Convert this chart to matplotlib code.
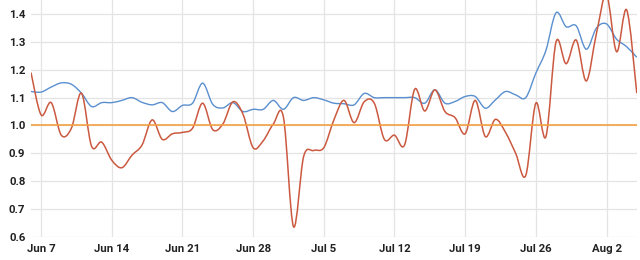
import matplotlib
matplotlib.use("Agg")
import matplotlib.pyplot as plt
import matplotlib.dates as mdates
from matplotlib.path import Path
from matplotlib.patches import PathPatch
import numpy as np
import pandas as pd


# daily values, Jun 6 .. Aug 5
dates = pd.date_range("2020-06-06", "2020-08-05", freq="D")

red_vals = [
    1.19, 1.038, 1.082, 0.965, 0.99, 1.116, 0.925, 0.94, 0.875, 0.848,
    0.893, 0.93, 1.02, 0.95, 0.97, 0.975, 0.99, 1.08, 0.985, 1.005,
    1.085, 1.04, 0.92, 0.945, 1.005,
    1.03, 0.636, 0.888, 0.91, 0.92, 1.02, 1.09, 1.01, 1.085, 1.08,
    0.95, 0.965, 0.93, 1.13, 1.052, 1.128, 1.05, 1.028, 0.97, 1.09,
    0.96, 1.022, 0.975, 0.90, 0.82, 1.08, 0.96, 1.30, 1.222, 1.307,
    1.16,
    1.33, 1.47, 1.265, 1.415, 1.116,
]

blue_vals = [
    1.122, 1.12, 1.138, 1.153, 1.148, 1.116, 1.068, 1.082, 1.082, 1.09,
    1.10, 1.083, 1.074, 1.082, 1.05, 1.072, 1.08, 1.152, 1.076, 1.063,
    1.082, 1.05, 1.058, 1.058, 1.09,
    1.058, 1.10, 1.09, 1.10, 1.092, 1.08, 1.078, 1.074, 1.115, 1.10,
    1.10, 1.10, 1.10, 1.10, 1.08, 1.128, 1.08, 1.086, 1.104, 1.104,
    1.062, 1.092, 1.122, 1.11, 1.10, 1.188, 1.27, 1.405, 1.355, 1.358,
    1.274,
    1.35, 1.365, 1.31, 1.283, 1.245,
]

baseline = 1.0

tick_labels = ["Jun 7", "Jun 14", "Jun 21", "Jun 28", "Jul 5",
               "Jul 12", "Jul 19", "Jul 26", "Aug 2"]
tick_dates = pd.to_datetime(["2020-06-07", "2020-06-14", "2020-06-21",
                             "2020-06-28", "2020-07-05", "2020-07-12",
                             "2020-07-19", "2020-07-26", "2020-08-02"])
y_ticks = [0.6, 0.7, 0.8, 0.9, 1.0, 1.1, 1.2, 1.3, 1.4]


def smooth_path(x, y, t=1.0 / 6):
    # cubic bezier through the points (catmull-rom style tangents)
    x = np.asarray(x, float)
    y = np.asarray(y, float)
    n = len(x)
    verts = [(x[0], y[0])]
    codes = [Path.MOVETO]
    for i in range(n - 1):
        i0 = max(i - 1, 0)
        i3 = min(i + 2, n - 1)
        c1 = (x[i] + (x[i + 1] - x[i0]) * t, y[i] + (y[i + 1] - y[i0]) * t)
        c2 = (x[i + 1] - (x[i3] - x[i]) * t, y[i + 1] - (y[i3] - y[i]) * t)
        verts += [c1, c2, (x[i + 1], y[i + 1])]
        codes += [Path.CURVE4] * 3
    return Path(verts, codes)


x = mdates.date2num(dates)

fig = plt.figure(figsize=(6.4, 2.6), dpi=100)
ax = fig.add_axes([31 / 640, 1 - 236.7 / 260, 606 / 640, 236.7 / 260])

ax.add_patch(PathPatch(smooth_path(x, blue_vals), facecolor="none",
                       edgecolor="#5a8fcf", lw=1.0, zorder=3))
ax.add_patch(PathPatch(smooth_path(x, red_vals), facecolor="none",
                       edgecolor="#cb5940", lw=1.1, zorder=4))
ax.axhline(baseline, color="#f4a043", lw=1.2, zorder=5)

ax.set_xlim(x[0], x[-1] + 0.02)
ax.set_ylim(0.6, 1.451)

ax.set_xticks(mdates.date2num(tick_dates))
ax.set_xticklabels(tick_labels)
ax.set_yticks(y_ticks)
ax.set_yticklabels([f"{v:.1f}" for v in y_ticks])

for s in ax.spines.values():
    s.set_visible(False)
ax.grid(True, color="#e4e4e4", lw=0.9, zorder=0)
ax.set_axisbelow(True)
ax.tick_params(length=0, pad=4, labelsize=8.2, labelcolor="#222222")
for lab in ax.get_xticklabels() + ax.get_yticklabels():
    lab.set_family(["Roboto", "DejaVu Sans"])
    lab.set_fontweight("bold")
ax.tick_params(axis="x", pad=5)

fig.savefig("out.png", dpi=100)
